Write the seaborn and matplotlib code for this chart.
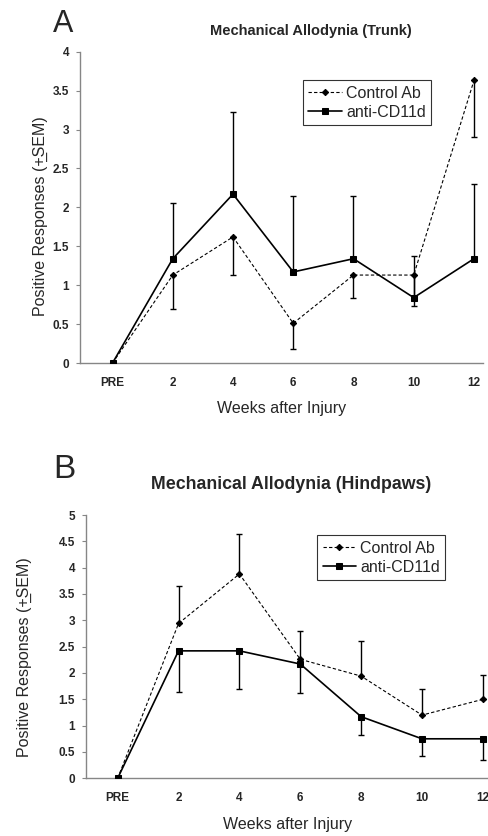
import matplotlib
matplotlib.use("Agg")
import matplotlib.pyplot as plt
import seaborn as sns
import pandas as pd
import numpy as np

weeks = ["PRE", "2", "4", "6", "8", "10", "12"]

# Panel A (Trunk)
a_control = [0, 1.13, 1.62, 0.51, 1.13, 1.13, 3.63]
a_control_err_low = [0, 0.44, 0.49, 0.33, 0.29, 0.40, 0.73]
a_anti = [0, 1.34, 2.17, 1.17, 1.34, 0.84, 1.34]
a_anti_err_high = [0, 0.72, 1.05, 0.98, 0.80, 0.54, 0.96]

# Panel B (Hindpaws)
b_control = [0, 2.94, 3.88, 2.26, 1.94, 1.20, 1.50]
b_control_err_high = [0, 0.71, 0.76, 0.54, 0.67, 0.50, 0.47]
b_anti = [0, 2.42, 2.42, 2.17, 1.17, 0.75, 0.75]
b_anti_err_low = [0, 0.79, 0.72, 0.55, 0.35, 0.33, 0.41]

sns.set_style("white")
plt.rcParams["font.family"] = ["Liberation Sans", "DejaVu Sans"]

fig = plt.figure(figsize=(4.89, 8.36), dpi=100)
axA = fig.add_axes([80/489, 1-363/836, 403/489, (363-51.7)/836])
axB = fig.add_axes([86/489, 1-778.3/836, 403/489, (778.3-515)/836])

GRAY = "#868686"

def panel(ax, ctrl, ctrl_err, anti, anti_err, ctrl_dir, anti_dir, ymax, xlim,
          title, tsize, tx, tpad, leg_anchor, ylab_xy):
    pos = np.arange(len(weeks))
    df = pd.DataFrame({
        "pos": np.concatenate([pos, pos]),
        "val": ctrl + anti,
        "group": ["Control Ab"] * len(weeks) + ["anti-CD11d"] * len(weeks),
    })
    z = np.zeros(len(weeks))
    ce = np.array(ctrl_err)
    ae = np.array(anti_err)
    cy = [ce, z] if ctrl_dir == "down" else [z, ce]
    ay = [ae, z] if anti_dir == "down" else [z, ae]
    ax.errorbar(pos, ctrl, yerr=cy, fmt="none", ecolor="black", elinewidth=1.0, capsize=2.5, capthick=1.0, zorder=2)
    ax.errorbar(pos, anti, yerr=ay, fmt="none", ecolor="black", elinewidth=1.0, capsize=2.5, capthick=1.0, zorder=2)
    sns.lineplot(data=df, x="pos", y="val", hue="group", style="group",
                 palette={"Control Ab": "black", "anti-CD11d": "black"},
                 dashes={"Control Ab": (3, 2), "anti-CD11d": ""},
                 markers={"Control Ab": "D", "anti-CD11d": "s"},
                 ax=ax, legend=False, zorder=3)
    l_ctrl, l_anti = [l for l in ax.get_lines() if len(l.get_xdata()) == len(weeks)][-2:]
    l_ctrl.set_linewidth(0.8); l_ctrl.set_markersize(3.2)
    l_anti.set_linewidth(1.2); l_anti.set_markersize(4.7)
    for l in (l_ctrl, l_anti):
        l.set_markeredgecolor("black"); l.set_markerfacecolor("black")
    ax.set_xlim(*xlim)
    ax.set_ylim(0, ymax)
    ax.set_xticks(pos)
    ax.set_xticklabels(weeks, fontweight="bold", fontsize=8.5)
    yt = np.arange(0, ymax + 0.01, 0.5)
    ax.set_yticks(yt)
    ax.set_yticklabels([f"{v:g}" for v in yt], fontweight="bold", fontsize=8.5)
    ax.tick_params(axis="x", length=0, pad=10)
    ax.tick_params(axis="y", length=3, color=GRAY, width=0.8, pad=5, left=True)
    for s in ("top", "right"):
        ax.spines[s].set_visible(False)
    for s in ("left", "bottom"):
        ax.spines[s].set_color(GRAY)
        ax.spines[s].set_linewidth(1.0)
    ax.set_xlabel("Weeks after Injury", fontsize=11.5, labelpad=9)
    ax.set_ylabel("Positive Responses (+\u0332SEM)", fontsize=11.5)
    ax.yaxis.set_label_coords(*ylab_xy)
    ax.set_title(title, fontsize=tsize, fontweight="bold", x=tx, pad=tpad)
    leg = ax.legend([l_ctrl, l_anti], ["Control Ab", "anti-CD11d"], loc="upper left",
                    bbox_to_anchor=leg_anchor,
                    fontsize=11.5, frameon=True, fancybox=False, handlelength=2.1,
                    handletextpad=0.25, borderpad=0.35, labelspacing=0.25, borderaxespad=0)
    leg.get_frame().set_edgecolor("black")
    leg.get_frame().set_linewidth(0.8)
    return leg

panel(axA, a_control, a_control_err_low, a_anti, a_anti_err_high, "down", "up", 4,
      (-0.54, 6.15), "Mechanical Allodynia (Trunk)", 10.5, 0.573, 12, (0.553, 0.909),
      (-0.079, 0.473))
panel(axB, b_control, b_control_err_high, b_anti, b_anti_err_low, "up", "down", 5,
      (-0.52, 6.1), "Mechanical Allodynia (Hindpaws)", 12.8, 0.509, 19, (0.573, 0.924),
      (-0.134, 0.462))

fig.text(53/489, 1-32/836, "A", fontsize=22)
fig.text(53/489, 1-478/836, "B", fontsize=24)

fig.savefig("out.png", dpi=100)
